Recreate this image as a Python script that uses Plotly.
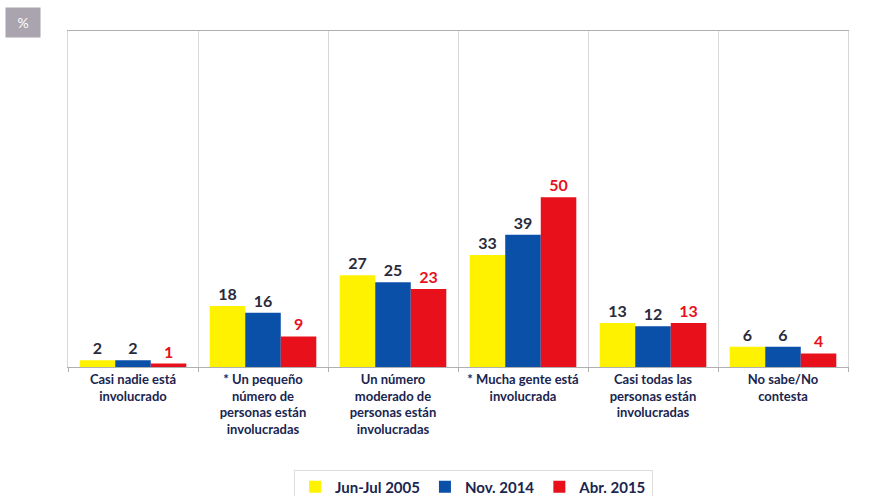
import plotly.graph_objects as go

categories = [
    "Casi nadie está<br>involucrado",
    "* Un pequeño<br>número de<br>personas están<br>involucradas",
    "Un número<br>moderado de<br>personas están<br>involucradas",
    "* Mucha gente está<br>involucrada",
    "Casi todas las<br>personas están<br>involucradas",
    "No sabe/No<br>contesta",
]
series_names = ["Jun-Jul 2005", "Nov. 2014", "Abr. 2015"]
jun_2005 = [2, 18, 27, 33, 13, 6]
nov_2014 = [2, 16, 25, 39, 12, 6]
abr_2015 = [1, 9, 23, 50, 13, 4]

colors = ["#FFF200", "#0A4FA8", "#E8111B"]
label_colors = ["#2a2a3a", "#2a2a3a", "#E8111B"]

fig = go.Figure()
for name, vals, c, lc in zip(series_names, [jun_2005, nov_2014, abr_2015], colors, label_colors):
    fig.add_trace(go.Bar(
        x=categories, y=vals, name=name,
        marker=dict(color=c, line=dict(width=0)),
        text=["<b>%d</b>" % v for v in vals], textposition="outside",
        textfont=dict(family="Lato, sans-serif", size=16, color=lc),
        cliponaxis=False,
    ))

fig.update_layout(
    width=885, height=496,
    margin=dict(l=68, r=37, t=31, b=129, autoexpand=False),
    barmode="group", bargap=0.18, bargroupgap=0,
    plot_bgcolor="white", paper_bgcolor="white",
    font=dict(family="Lato, sans-serif", color="#1f2a4a"),
    legend=dict(
        orientation="h", x=0.52, xanchor="center",
        yref="container", y=0.018, yanchor="middle",
        font=dict(size=15, color="#1a2550", family="Lato, sans-serif", weight="bold"),
        bordercolor="#dddddd", borderwidth=1, itemwidth=30,
        traceorder="normal", tracegroupgap=0,
    ),
    xaxis=dict(
        automargin=False,
        tickson="boundaries", showgrid=True, gridcolor="#d8d8d8",
        showline=True, linecolor="#b0b0b0", mirror=True,
        ticks="outside", ticklen=4, tickcolor="#b0b0b0",
        tickfont=dict(size=13, color="#1a2550", weight="bold"),
        tickangle=0,
    ),
    yaxis=dict(
        automargin=False,
        range=[0, 99], showgrid=False, showticklabels=False, zeroline=False,
        showline=True, linecolor="#d8d8d8", mirror=True,
    ),
)

fig.add_annotation(
    xref="paper", yref="paper", x=-0.081, y=1.071, xanchor="left", yanchor="top",
    text="%", showarrow=False, font=dict(size=14, color="white"),
    bgcolor="#a9a4ad", width=32, height=27,
)

fig.write_html("out.html", config={"displayModeBar": False},
               post_script="document.body.style.margin='0';")
